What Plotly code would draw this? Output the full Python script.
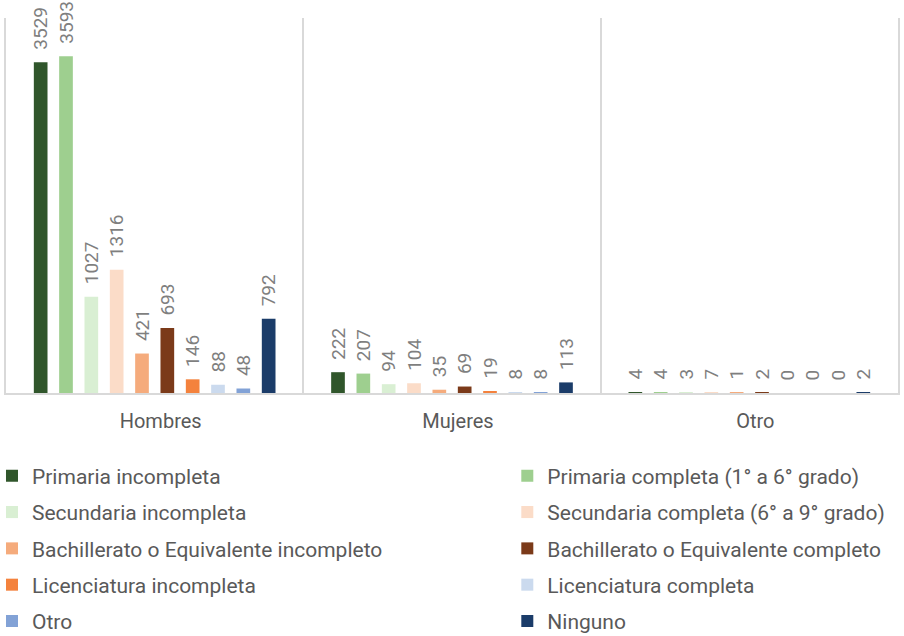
import plotly.graph_objects as go

# Escolaridad por sexo
categories = ["Hombres", "Mujeres", "Otro"]

series_names = [
    "Primaria incompleta",
    "Primaria completa (1° a 6° grado)",
    "Secundaria incompleta",
    "Secundaria completa (6° a 9° grado)",
    "Bachillerato o Equivalente incompleto",
    "Bachillerato o Equivalente completo",
    "Licenciatura incompleta",
    "Licenciatura completa",
    "Otro",
    "Ninguno",
]

primaria_incompleta = [3529, 222, 4]
primaria_completa = [3593, 207, 4]
secundaria_incompleta = [1027, 94, 3]
secundaria_completa = [1316, 104, 7]
bachillerato_incompleto = [421, 35, 1]
bachillerato_completo = [693, 69, 2]
licenciatura_incompleta = [146, 19, 0]
licenciatura_completa = [88, 8, 0]
otro = [48, 8, 0]
ninguno = [792, 113, 2]

series_values = [
    primaria_incompleta,
    primaria_completa,
    secundaria_incompleta,
    secundaria_completa,
    bachillerato_incompleto,
    bachillerato_completo,
    licenciatura_incompleta,
    licenciatura_completa,
    otro,
    ninguno,
]

colors = [
    "#30562B", "#9ECF8F", "#D9EFD3", "#FBDCC8", "#F5AB7C",
    "#7B3A19", "#F4823D", "#CBDAEE", "#82A2D6", "#1B3C69",
]

FONT = "Roboto"
TEXT_GRAY = "#595959"
LABEL_GRAY = "#7F7F7F"
LINE_GRAY = "#D9D9D9"

fig = go.Figure()
for i, (name, vals, col) in enumerate(zip(series_names, series_values, colors)):
    fig.add_trace(go.Bar(
        x=categories,
        y=vals,
        name=name,
        marker=dict(color=col, line=dict(width=0)),
        text=vals,
        texttemplate="\u00a0\u00a0%{y}",
        textposition="outside",
        textangle=-90,
        constraintext="none",
        cliponaxis=False,
        textfont=dict(family=FONT, size=19, color=LABEL_GRAY),
        legend="legend" if i % 2 == 0 else "legend2",
        legendgroup=f"g{i}",
        hoverinfo="x+y+name",
    ))

legend_common = dict(
    orientation="v",
    xref="paper",
    yref="paper",
    xanchor="left",
    yanchor="top",
    font=dict(family=FONT, size=21, color=TEXT_GRAY),
    tracegroupgap=6,
    bgcolor="rgba(0,0,0,0)",
)

fig.update_layout(
    width=904,
    height=636,
    margin=dict(l=6, r=6, t=18, b=243, autoexpand=False),
    paper_bgcolor="white",
    plot_bgcolor="white",
    barmode="group",
    bargap=0.148,
    bargroupgap=0.46,
    showlegend=True,
    legend=dict(x=-0.0157, y=-0.167, **legend_common),
    legend2=dict(x=0.562, y=-0.167, **legend_common),
    xaxis=dict(
        type="category",
        tickson="boundaries",
        showgrid=True,
        gridcolor=LINE_GRAY,
        gridwidth=2,
        showline=True,
        linecolor=LINE_GRAY,
        linewidth=2,
        ticks="",
        tickangle=0,
        ticklabelshift=6,
        ticklabelstandoff=9,
        tickfont=dict(family=FONT, size=20, color=TEXT_GRAY),
        fixedrange=True,
    ),
    yaxis=dict(
        range=[0, 4000],
        showgrid=False,
        zeroline=False,
        showticklabels=False,
        showline=True,
        mirror=True,
        linecolor=LINE_GRAY,
        linewidth=2,
        ticks="",
        fixedrange=True,
    ),
)

fig.write_html("out.html")
